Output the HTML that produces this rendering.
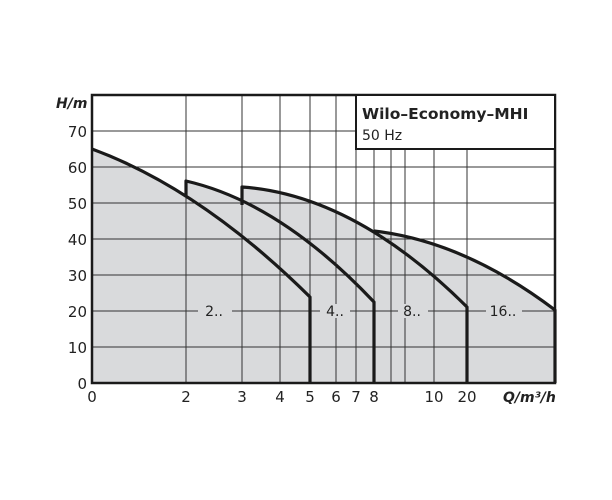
<!DOCTYPE html>
<html><head><meta charset="utf-8"><style>
html,body{margin:0;padding:0;background:#fff;}
svg{display:block;}
text{font-family:"DejaVu Sans","Liberation Sans",sans-serif;fill:#222;}
</style></head><body>
<svg width="612" height="500" viewBox="0 0 612 500" xmlns="http://www.w3.org/2000/svg">
<g fill="#d9dadc">
<path d="M92,383 L92,149 Q201,189 310,297 L310,383 Z"/>
<path d="M186,383 L186,181 Q280,202.5 374,302 L374,383 Z"/>
<path d="M242,383 L242,187 Q354.5,195 467,307 L467,383 Z"/>
<path d="M374,383 L374,231 Q464.5,241.5 555,310 L555,383 Z"/>
</g>
<g stroke="#333" stroke-width="1">
<line x1="92" y1="131" x2="356" y2="131"/>
<line x1="92" y1="167" x2="555" y2="167"/>
<line x1="92" y1="203" x2="555" y2="203"/>
<line x1="92" y1="239" x2="555" y2="239"/>
<line x1="92" y1="275" x2="555" y2="275"/>
<line x1="92" y1="311" x2="555" y2="311"/>
<line x1="92" y1="347" x2="555" y2="347"/>
<line x1="186" y1="95" x2="186" y2="383"/>
<line x1="242" y1="95" x2="242" y2="383"/>
<line x1="280" y1="95" x2="280" y2="383"/>
<line x1="310" y1="95" x2="310" y2="383"/>
<line x1="336" y1="95" x2="336" y2="383"/>
<line x1="356" y1="95" x2="356" y2="383"/>
<line x1="374" y1="149" x2="374" y2="383"/>
<line x1="391" y1="149" x2="391" y2="383"/>
<line x1="405" y1="149" x2="405" y2="383"/>
<line x1="434" y1="149" x2="434" y2="383"/>
<line x1="467" y1="149" x2="467" y2="383"/>
</g>
<g fill="#d9dadc">
<rect x="198" y="304" width="34" height="14"/>
<rect x="320" y="304" width="30" height="14"/>
<rect x="398" y="304" width="30" height="14"/>
<rect x="486" y="304" width="36" height="14"/>
</g>
<g font-size="14" text-anchor="middle" fill="#333">
<text x="214" y="316">2..</text>
<text x="335" y="316">4..</text>
<text x="412" y="316">8..</text>
<text x="503" y="316">16..</text>
</g>
<path d="M92,149 Q201,189 310,297 L310,383 M186,196 L186,181 Q280,202.5 374,302 L374,383 M242,205 L242,187 Q354.5,195 467,307 L467,383 M374,231 Q464.5,241.5 555,310 L555,383" fill="none" stroke="#1a1a1a" stroke-width="3.2" stroke-linejoin="round"/>
<rect x="92" y="95" width="463" height="288" fill="none" stroke="#1a1a1a" stroke-width="2.5"/>
<rect x="356" y="95" width="199" height="54" fill="#fff" stroke="#1a1a1a" stroke-width="2"/>
<text x="362" y="119" font-size="15.5" font-weight="bold">Wilo–Economy–MHI</text>
<text x="362" y="140" font-size="14">50 Hz</text>
<g font-size="15" text-anchor="end">
<text x="87" y="137">70</text>
<text x="87" y="173">60</text>
<text x="87" y="209">50</text>
<text x="87" y="245">40</text>
<text x="87" y="281">30</text>
<text x="87" y="317">20</text>
<text x="87" y="353">10</text>
<text x="87" y="389">0</text>
</g>
<text x="56" y="108" font-size="14" font-weight="bold" font-style="italic">H/m</text>
<g font-size="15" text-anchor="middle">
<text x="92" y="402">0</text>
<text x="186" y="402">2</text>
<text x="242" y="402">3</text>
<text x="280" y="402">4</text>
<text x="310" y="402">5</text>
<text x="336" y="402">6</text>
<text x="356" y="402">7</text>
<text x="374" y="402">8</text>
<text x="434" y="402">10</text>
<text x="467" y="402">20</text>
</g>
<text x="503" y="402" font-size="14" font-weight="bold" font-style="italic">Q/m³/h</text>
</svg>
</body></html>
